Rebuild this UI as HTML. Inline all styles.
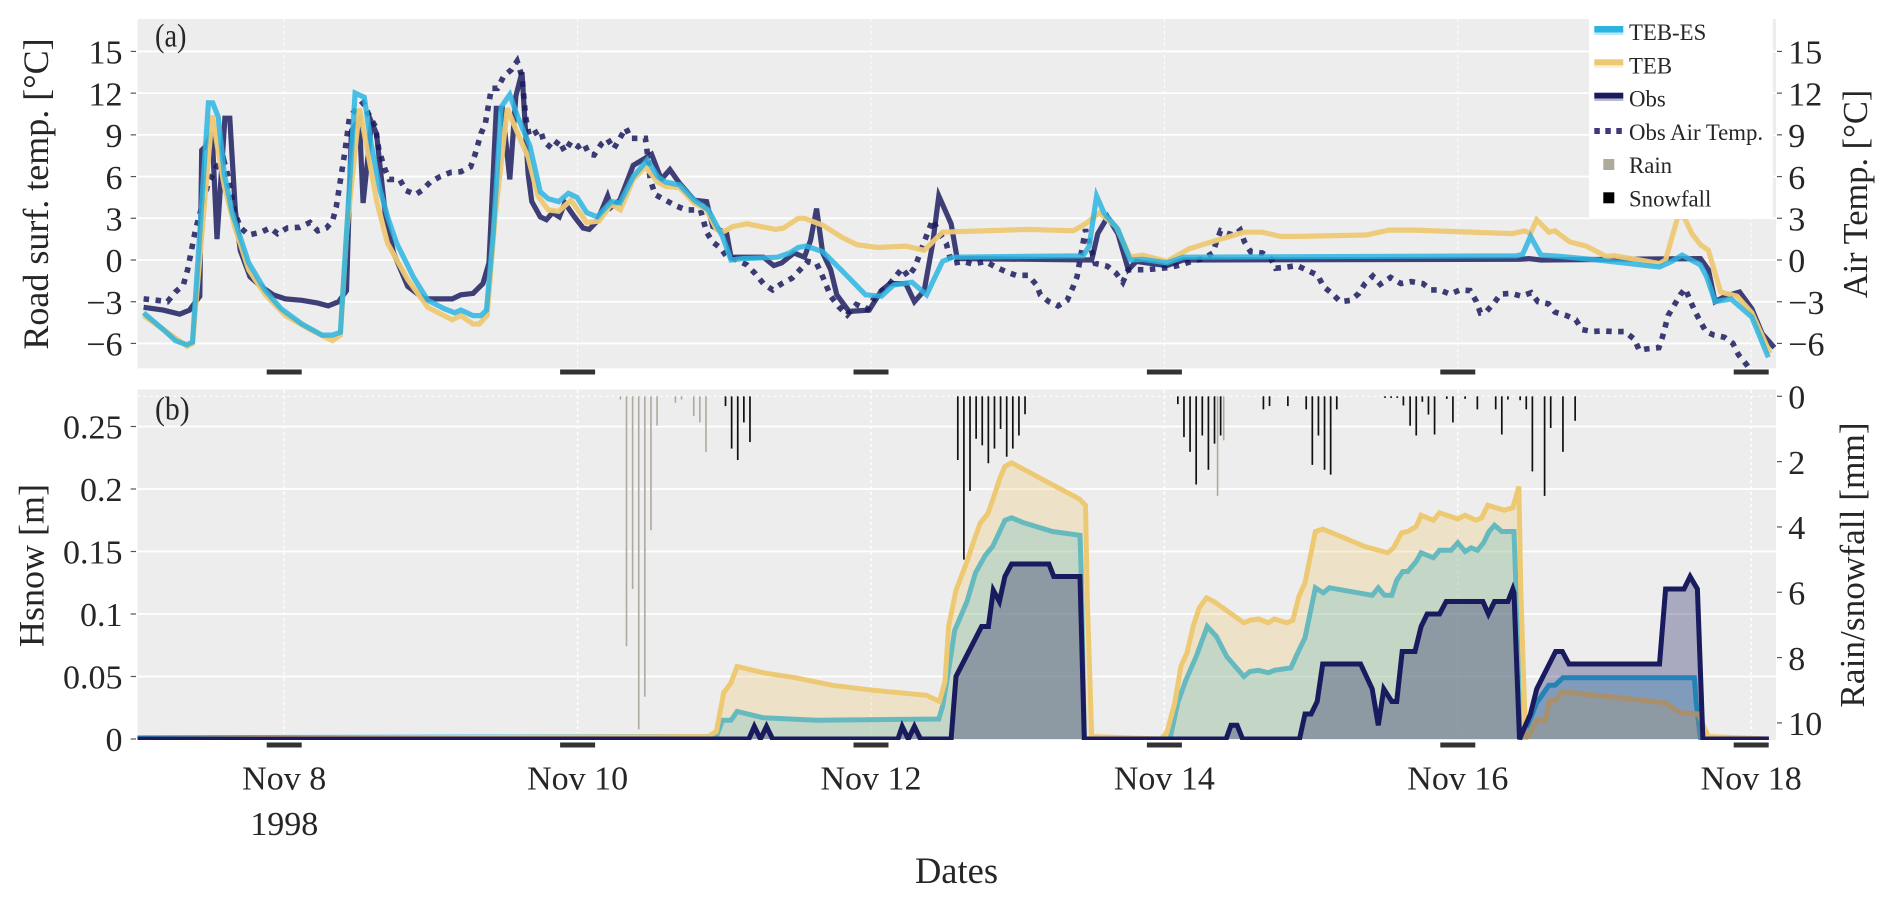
<!DOCTYPE html>
<html lang="en">
<head>
<meta charset="utf-8">
<title>Road surface temperature and snow height</title>
<style>
html,body{margin:0;padding:0;background:#fff;width:1892px;height:903px;overflow:hidden}
svg{display:block}
text{font-family:"Liberation Serif",serif;fill:#262626}
</style>
</head>
<body>
<svg id="chart" xmlns="http://www.w3.org/2000/svg" width="1892" height="903" viewBox="0 0 1892 903">
  <defs>
    <clipPath id="clip-a"><rect x="137.5" y="19" width="1638.5" height="349.3"/></clipPath>
    <clipPath id="clip-b"><rect x="137.5" y="389.5" width="1638.5" height="350.5"/></clipPath>
  </defs>
  <rect x="137.5" y="19" width="1638.5" height="349.3" fill="#ededed"/>
  <rect x="137.5" y="389.5" width="1638.5" height="350.5" fill="#ededed"/>
  <g id="grid"></g>
  <g id="panel-a" clip-path="url(#clip-a)"></g>
  <g id="panel-b" clip-path="url(#clip-b)"></g>
  <g id="axes"></g>

  <text transform="translate(155,46.5) scale(0.86,1)" font-size="33">(a)</text>
  <text transform="translate(155,419.5) scale(0.9,1)" font-size="33">(b)</text>
  <text transform="translate(48,194) rotate(-90)" text-anchor="middle" font-size="36">Road surf. temp. [°C]</text>
  <text transform="translate(1867,194) rotate(-90)" text-anchor="middle" font-size="34.4">Air Temp. [°C]</text>
  <text transform="translate(43.5,565.5) rotate(-90)" text-anchor="middle" font-size="36">Hsnow [m]</text>
  <text transform="translate(1864,565) rotate(-90)" text-anchor="middle" font-size="35.3">Rain/snowfall [mm]</text>
  <text x="956.5" y="883" text-anchor="middle" font-size="36.5">Dates</text>
  <text x="284.3" y="835" text-anchor="middle" font-size="34">1998</text>

  <g>
    <rect x="1589" y="19" width="183.7" height="200" fill="#fff"/>
    <g>
      <rect x="1594.3" y="26" width="29" height="6.5" fill="#2bb4e0"/>
      <rect x="1594.3" y="32.5" width="29" height="2.5" fill="#2bb4e0" opacity=".3"/>
      <text x="1629" y="40" font-size="22.8">TEB-ES</text>
    </g>
    <g>
      <rect x="1594.3" y="59.3" width="29" height="6" fill="#eec974"/>
      <rect x="1594.3" y="65.3" width="29" height="2.5" fill="#eec974" opacity=".3"/>
      <text x="1629" y="73.3" font-size="22.8">TEB</text>
    </g>
    <g>
      <rect x="1594.3" y="92.7" width="29" height="5.8" fill="#1a1a5e"/>
      <rect x="1594.3" y="98.5" width="29" height="2.5" fill="#1a1a5e" opacity=".3"/>
      <text x="1629" y="106.7" font-size="22.8">Obs</text>
    </g>
    <g>
      <line x1="1594.3" x2="1623.3" y1="131" y2="131" stroke="#3c3a78" stroke-width="6" stroke-dasharray="5.5 5.5"/>
      <text x="1629" y="140" font-size="22.8">Obs Air Temp.</text>
    </g>
    <g>
      <rect x="1603.3" y="159" width="11" height="11" fill="#aeaa9e"/>
      <text x="1629" y="173" font-size="22.8">Rain</text>
    </g>
    <g>
      <rect x="1603.3" y="192.3" width="11" height="11" fill="#000"/>
      <text x="1629" y="206.7" font-size="22.8">Snowfall</text>
    </g>
  </g>
</svg>

<script>
// ---------- Tick labels ----------
const dateTickHours = [24, 72, 120, 168, 216, 264];
const dateTickLabels = ['Nov 8', 'Nov 10', 'Nov 12', 'Nov 14', 'Nov 16', 'Nov 18'];
const tempTicks = [-6, -3, 0, 3, 6, 9, 12, 15];
const snowTicks = [0, 0.05, 0.1, 0.15, 0.2, 0.25];
const snowTickLabels = ['0', '0.05', '0.1', '0.15', '0.2', '0.25'];
const precipTicks = [0, 2, 4, 6, 8, 10];

// ---------- Panel (a): road surface / air temperature (hours since Nov 7 00:00, degrees C) ----------
const obsRoadHours = [1,4.2,6.9,8.5,10.2,10.5,11.2,12.2,13,14.3,15.1,16,16.8,18.4,20.2,22.2,24.2,26.9,29.5,31.2,32.9,34.2,35,36.3,36.9,38.3,39.1,40.5,41.9,44.2,46.9,51.5,52.9,54.9,56.5,57.5,58.7,59.7,60.9,61.9,62.9,63.9,64.5,65.9,66.9,67.9,69,69.9,71.5,72.9,73.9,75.2,76.9,77.5,78.9,81.1,84.1,85.7,87.1,88.7,91.1,93.1,94.1,96.4,97.1,102.4,104.1,105.4,107.4,109.1,110.1,111.1,112.1,113.4,114.4,116.4,119.7,121.7,123.1,125.7,127.1,128.7,130.1,131.1,133.1,134.1,156.1,157.1,158.7,160.4,162.1,163.4,168.4,171.1,226.2,227.6,229.6,255.7,257,258.1,259.8,262.1,264.1,265.8,267.8];
const obsRoadTemp = [-3.4,-3.6,-3.9,-3.6,-2.6,7.9,8.2,9.2,1.5,10.2,10.2,3.6,0.7,-1.2,-1.9,-2.5,-2.8,-2.9,-3.1,-3.3,-3,-2.2,9.3,10.1,4.1,9.9,9.1,3.4,0.5,-1.9,-2.8,-2.8,-2.5,-2.4,-1.7,-0.2,10.9,10.9,5.8,11.8,13.5,6.2,4.2,3.1,2.9,3.4,3.1,4.1,3.1,2.3,2.2,2.8,4.6,3.8,4.3,6.8,7.6,5.8,6.5,5.5,4.3,4.2,2.4,1.9,0.2,0.2,-0.4,-0.2,0.5,0.2,1.4,3.7,0.5,-0.7,-2.5,-3.7,-3.6,-2.2,-1.7,-1.7,-3,-2.2,1.2,4.6,2.6,0.1,0,1.9,3.1,1.9,-0.7,-0.1,-0.4,0,0.05,0.1,0,0.1,-0.7,-3,-2.6,-2.3,-3.5,-5.3,-6.3];

const airHours = [1,3.2,4.9,6.2,7.5,8.2,9.5,10.5,11.5,12.9,14.1,14.7,15.9,16.9,18.2,20.2,21.7,22.9,24.5,26.5,28.2,29.5,30.9,31.9,32.5,33.9,34.7,35.9,36.9,37.9,38.9,39.5,40.5,41.2,42.9,43.9,45.5,46.5,47.9,49.5,51.2,52.9,54.5,55.2,56.2,56.9,57.9,58.9,59.9,61.2,62.1,62.9,63.5,64.1,65.9,66.5,67.9,68.9,69.9,70.9,72.1,73,73.9,74.7,75.9,76.9,77.9,79.9,80.7,83.1,83.4,83.9,84.7,86.4,88.1,89.7,92.1,93.1,94.1,95.4,96.4,98.1,99.7,101.1,102.4,103.9,105.4,107.1,108.4,109.7,111.1,112.1,113.4,114.7,116.1,117.6,119.4,120.7,122.9,125.1,126.1,127.2,128.4,130.1,131.1,132.3,133.2,135.1,136.7,138.7,140.4,142.1,143.7,145.7,147.1,147.7,149.1,150.6,152.1,153.1,153.7,154.4,155.1,156.7,158.7,160.1,161.2,162.1,165.1,168.7,170.7,172.4,174.4,175.9,176.5,177.2,178.4,179.4,180.4,181.1,182.1,184,185.4,186.2,188.1,189.7,191.4,193.1,194,195.4,196.8,198.5,199.8,200.8,202.1,203.3,205,206.7,208.4,210.3,211.6,213,214.7,216.4,218,219,219.7,220.7,222,223,224.8,226.4,228,229.1,230.8,231.9,233.8,235.3,236.3,238,239.6,241.5,243.3,244.9,245.7,246.8,248.9,249.5,250.4,251.4,252.4,253.2,254,254.8,255.7,256.6,257.9,259.6,261,261.9,263.2,265];
const airTemp = [-2.8,-2.9,-3,-2.3,-1.8,-0.7,2.2,3.8,5.4,6.7,7.2,6.2,3.4,2.3,1.8,2,2.3,1.9,2.3,2.35,2.7,2.1,2.3,2.8,3.8,7.7,10.3,10.9,11.3,10.4,9.6,7.9,6.5,5.8,5.8,5,4.7,5,5.6,6,6.3,6.35,6.7,7.55,9.1,9.8,12.35,12.35,13.2,13.7,14.3,13.2,10.3,8.9,9.35,8.5,8,8.6,7.8,8.5,8.15,8.4,7.6,7.55,8.35,8.7,8,9.5,8.75,8.75,7.7,5.75,4.7,4.3,3.9,3.6,3.6,2,1.3,0.85,0.25,0,-0.35,-1,-1.7,-2.15,-1.7,-1.3,-0.7,-0.1,-0.25,-1.2,-2.6,-3.35,-3.95,-3.2,-3.55,-2.6,-1.8,-0.6,-1.2,-0.5,0.95,2.9,2,1.2,-0.25,-0.1,-0.3,-0.1,-0.5,-0.85,-1.1,-1.1,-1.8,-2.5,-3,-3.3,-2.9,-1.9,-1.2,0.5,2.2,-0.25,-0.45,-0.95,-1.6,-0.7,-0.7,-0.55,-0.35,-0.1,0.1,0.5,1.3,2.1,1.9,1.8,2.15,1.3,0.6,0.5,0.1,-0.6,-0.5,-0.4,-0.75,-1.1,-1.9,-2.4,-3,-2.9,-2.4,-1.7,-1.15,-1.75,-1.25,-1.7,-1.55,-1.7,-2.15,-2.15,-2.45,-2.15,-2.2,-2.95,-3.8,-3.7,-3.05,-2.45,-2.4,-2.6,-2.35,-3,-3.15,-3.75,-4,-4.3,-5,-5.15,-5.1,-5.15,-5.15,-5.7,-6.5,-6.4,-6.3,-5.5,-4,-3.25,-2.5,-2.05,-2.9,-3.7,-4.45,-5.15,-5.4,-5.55,-6,-6.8,-7.5,-8.6];

const tebRoadHours = [1,8.1,9,12.2,14.2,15.9,18.2,20.9,24.2,28.2,31.9,33.2,34.2,36.3,37.5,39.2,40.9,44.2,47.5,51.5,52.9,54.9,55.9,57.2,58.5,60.5,62.2,63.9,65.5,67.2,68.9,70.9,73.5,75.5,77.5,79,81.1,83.1,85.1,86.4,88.7,91.1,93.1,94.7,95.7,97.4,99.7,104.4,105.7,108.1,109.1,112.1,115.4,117.7,121.1,125.7,128.7,131.7,145.7,153.1,155.1,157.4,160.1,162.4,164.4,168.4,172,175.7,181,184,187,190,201,204.8,208.8,224.9,226.9,227.9,228.9,230.9,231.9,234.3,237,240.3,241.6,245.7,249,250,252,253,254.3,255.7,257,259,261.7,264.1,267.1];
const tebRoadTemp = [-4,-6.2,-6,10.4,5.3,2.4,-0.7,-2.5,-4,-5,-5.8,-5.4,1.9,10.9,8.2,4.1,1.2,-1.4,-3.4,-4.3,-4,-4.6,-4.6,-4,3.1,10.9,9.1,7.4,4.6,3.6,3.5,4.3,2.7,2.8,4,3.6,5.8,6.7,5.6,5.3,5.2,4.1,3.6,2.2,2,2.4,2.6,2.2,2.3,3,3,2.5,1.6,1.1,0.9,1,0.7,2,2.2,2.1,2.6,3.4,2.4,0.2,0.35,-0.1,0.8,1.3,2,2,1.7,1.7,1.8,2.15,2.15,1.9,2.1,1.9,2.9,2,2.1,1.3,1,0.25,0.3,0,-0.25,0,3.1,3.1,1.9,1.1,0.7,-2.3,-2.6,-3.8,-6.7];

const esRoadHours = [1,4.2,6.2,8.1,9,11.6,12.3,13.2,14.2,15.5,18.2,20.9,23.5,26.9,30.2,31.9,33.2,34.2,35.6,37.1,38.2,39.7,41,42.4,45.1,47.5,50.2,51.9,52.9,54.9,56.2,57.1,58.2,59.5,60.9,62.2,64.2,65.9,67.2,68.9,70.5,71.9,73.5,75.2,77.5,78.9,81.1,83.4,85.1,86.4,88.7,91.1,93.4,95.7,97.1,99.1,104.7,106.7,108.1,109.4,112.1,115.1,119.1,121.7,123.7,126.7,129.1,131.7,133.4,154.7,155.7,156.9,158.1,160.4,162.4,164.4,168.4,171.1,225.6,226.6,227.9,229.6,232.9,238.9,249,251,252.7,255.7,256.7,258.1,260.7,264.1,266.8];
const esRoadTemp = [-3.8,-5,-5.8,-6.1,-5.9,11.3,11.3,10.3,6.2,3.4,-0.2,-2.2,-3.5,-4.6,-5.4,-5.4,-5.2,1.9,12,11.7,8.4,5,3,1.2,-1.2,-2.9,-3.5,-3.8,-3.6,-4,-4,-3.6,1.9,11,11.9,10.3,8.2,4.9,4.4,4.2,4.8,4.5,3.4,3.1,4.2,4.1,6,7.2,6,5.6,5.4,4.3,3.6,1.7,0,0.1,0.2,0.5,0.9,1,0.6,-0.7,-2.5,-2.6,-1.8,-1.6,-2.5,-0.1,0.2,0.3,1,4.6,3.4,2.2,0,0.05,-0.2,0.2,0.3,0.4,1.7,0.35,0.25,0,-0.5,-0.1,0.35,-0.35,-1.2,-3,-2.8,-4.1,-7];

// ---------- Panel (b): snow height (hours, metres) ----------
const tebSnowHours = [0,93.4,94.7,95.9,97.1,98.1,102.4,107.7,113.7,120.4,129.1,131.2,132.1,132.7,133.9,135.7,136.7,137.9,139.1,140.1,141.1,141.9,143,149.1,154.1,155.1,155.4,156.1,167.4,168.4,169.7,170.7,171.7,172.7,173.7,174.9,176.1,181,182,183.4,185,186,188,189,190,191,192.7,193.9,200.8,204.5,205.5,206.8,207.8,209.2,210,212,213,216,217.2,219,219.9,220.9,223.6,225,226,226.3,227.1,227.9,228.9,230.3,231,232,233.1,250,252,253,255.4,256,257,266.9];
const tebSnowDepth = [0,0.002,0.006,0.037,0.045,0.058,0.053,0.049,0.043,0.039,0.035,0.03,0.046,0.09,0.119,0.142,0.157,0.173,0.18,0.194,0.209,0.218,0.221,0.205,0.192,0.187,0.109,0.002,0,0.005,0.029,0.058,0.069,0.09,0.105,0.113,0.11,0.093,0.095,0.096,0.093,0.096,0.093,0.095,0.114,0.125,0.166,0.168,0.154,0.149,0.153,0.165,0.166,0.17,0.179,0.175,0.181,0.176,0.179,0.175,0.177,0.187,0.183,0.185,0.202,0.119,0,0.005,0.015,0.015,0.031,0.031,0.038,0.029,0.022,0.021,0.02,0.013,0.002,0];

const esSnowHours = [0,94.7,95.7,97.1,98.1,102.4,111.1,131.1,131.7,132.7,133.7,135.7,137.1,138.7,139.9,141.9,143,145,149.7,154.2,154.4,154.9,168.9,170.2,171.5,173.2,175,176.5,178.2,181,182,183.4,185,186,188.7,190,191,192.7,194,195,202,203,204,205.2,206,207,207.8,209.2,210,212,213,214.9,216,217.2,218.2,219.2,220.2,221.1,222,223.2,225.2,225.6,226.2,227.6,228.9,230.9,231.9,233.2,254.7,255,255.7,266.9];
const esSnowDepth = [0.001,0.002,0.015,0.015,0.022,0.017,0.015,0.016,0.026,0.055,0.087,0.11,0.133,0.147,0.154,0.175,0.177,0.173,0.166,0.163,0.13,0,0,0.029,0.047,0.066,0.09,0.082,0.066,0.05,0.054,0.055,0.053,0.055,0.057,0.071,0.081,0.121,0.117,0.121,0.115,0.121,0.115,0.115,0.127,0.134,0.134,0.142,0.149,0.145,0.151,0.151,0.157,0.15,0.153,0.151,0.157,0.166,0.171,0.166,0.166,0.109,0,0.013,0.029,0.043,0.043,0.049,0.049,0.029,0,0];

const obsSnowHours = [0,100,100.9,101.9,102.9,103.9,124.4,125.1,126.1,127.1,128.1,133.1,133.9,138.1,139.2,140,141,141.9,143,149.1,149.9,154.2,154.9,178.1,178.9,179.9,180.8,190.1,191,192,193,193.9,200.1,202,203,203.9,205.2,206,206.9,209,210,211,213,214.1,220.1,221,222,224.2,225,225.2,226.1,227.9,228.9,232,233.1,234.2,249,250,253,254,255.2,256.1,266.9];
const obsSnowDepth = [0,0,0.01,0,0.01,0,0,0.01,0,0.01,0,0,0.05,0.09,0.09,0.119,0.11,0.13,0.14,0.14,0.13,0.13,0,0,0.011,0.011,0,0,0.02,0.02,0.03,0.06,0.06,0.04,0.011,0.04,0.03,0.03,0.07,0.07,0.09,0.1,0.1,0.11,0.11,0.1,0.11,0.11,0.12,0.117,0,0.02,0.04,0.07,0.07,0.06,0.06,0.12,0.12,0.13,0.12,0,0];

// ---------- Panel (b): precipitation stems (hours, mm) ----------
const rainHours = [79,80,81,82,83,84,85,88,89,91,92,93,176.7,177.7];
const rainAmount = [0.1,7.65,5.9,10.2,9.2,4.1,0.9,0.2,0.1,0.6,0.8,1.7,3.05,1.35];
const snowfallHours = [96.2,97.2,98.2,99.2,100.2,134.2,135.2,136.2,137.2,138.2,139.2,140.2,141.2,142.2,143.2,144.2,145.2,170.2,171.2,172.2,173.2,174.2,175.2,176.2,177.2,184.2,185.2,188.2,191.2,192.2,193.2,194.2,195.2,196.2,204.1,205.1,206.1,207.1,208.2,209.2,210.2,211.2,212.2,214.2,215.2,217.2,219.2,222.2,223.2,224.2,226.2,227.2,228.2,230.2,231.2,233.2,235.2];
const snowfallAmount = [0.3,1.6,1.95,0.8,1.4,1.95,5,2.9,1.3,1.5,2.05,1.6,1,1.85,1.6,1.2,0.55,0.24,1.25,1.7,2.7,1.2,2.25,1.45,1.2,0.4,0.3,0.3,0.4,2.1,1.2,2.25,2.4,0.4,0.05,0.05,0.05,0.28,0.9,1.2,0.17,0.56,1.17,0.08,0.8,0.08,0.4,0.4,1.17,0.1,0.12,0.4,2.3,3.05,0.97,1.7,0.75];

// ---------- Axis functions ----------
function xAt(hour) { return 137.5 + hour * 6.1125; }
function yTemp(t) { return 260 - t * 13.905; }
function ySnow(m) { return 739 - m * 1250; }
function yPrecip(mm) { return 396.3 + mm * 32.66; }

const NS = 'http://www.w3.org/2000/svg';
function make(parent, tag, attrs, content) {
  const n = document.createElementNS(NS, tag);
  for (const k in attrs) n.setAttribute(k, attrs[k]);
  if (content !== undefined) n.textContent = content;
  parent.appendChild(n);
  return n;
}
function linePoints(hours, values, yFn) {
  return hours.map((h, i) => xAt(h).toFixed(1) + ',' + yFn(values[i]).toFixed(1)).join(' ');
}
function areaPoints(hours, values, yFn) {
  return xAt(hours[0]).toFixed(1) + ',' + yFn(0).toFixed(1) + ' ' + linePoints(hours, values, yFn) + ' ' +
    xAt(hours[hours.length - 1]).toFixed(1) + ',' + yFn(0).toFixed(1);
}
function fmtTemp(t) { return t < 0 ? '\u2212' + Math.abs(t) : String(t); }

const grid = document.getElementById('grid');
const axes = document.getElementById('axes');
const panelA = document.getElementById('panel-a');
const panelB = document.getElementById('panel-b');

// ---------- Grid ----------
tempTicks.forEach(t => {
  const g = make(grid, 'line', { x1: 137.5, x2: 1776, y1: yTemp(t), y2: yTemp(t), stroke: '#fff', 'stroke-width': 1.8 });
  
  
});
snowTicks.slice(1).forEach(s => {
  const g = make(grid, 'line', { x1: 137.5, x2: 1776, y1: ySnow(s), y2: ySnow(s), stroke: '#fff', 'stroke-width': 1.8 });
  
  
});
const topDash = make(grid, 'line', { x1: 137.5, x2: 1776, y1: yPrecip(0), y2: yPrecip(0), stroke: '#fff', 'stroke-width': 1.2, 'stroke-dasharray': '3 3' });


dateTickHours.forEach(h => {
  const a = make(grid, 'line', { x1: xAt(h), x2: xAt(h), y1: 19, y2: 368, stroke: '#fff', 'stroke-width': 1, 'stroke-dasharray': '3 3' });
  
  
  const b = make(grid, 'line', { x1: xAt(h), x2: xAt(h), y1: 390, y2: 733, stroke: '#fff', 'stroke-width': 1.5, 'stroke-dasharray': '3 3' });
  
  
});

// ---------- Panel (a) series ----------
const obsRoadLine = make(panelA, 'polyline', { points: linePoints(obsRoadHours, obsRoadTemp, yTemp), fill: 'none', stroke: '#1a1a5e', 'stroke-opacity': .83, 'stroke-width': 5.2 });


const airLine = make(panelA, 'polyline', { points: linePoints(airHours, airTemp, yTemp), fill: 'none', stroke: '#1a1a5e', 'stroke-opacity': .85, 'stroke-width': 5.6, 'stroke-dasharray': '5.5 6.5' });


const tebRoadLine = make(panelA, 'polyline', { points: linePoints(tebRoadHours, tebRoadTemp, yTemp), fill: 'none', stroke: '#eec974', 'stroke-opacity': .95, 'stroke-width': 5.2 });


const esRoadLine = make(panelA, 'polyline', { points: linePoints(esRoadHours, esRoadTemp, yTemp), fill: 'none', stroke: '#2bb4e0', 'stroke-opacity': .85, 'stroke-width': 5.2 });



// ---------- Panel (b) precipitation stems ----------
rainHours.forEach((h, i) => {
  const s = make(panelB, 'line', { x1: xAt(h), x2: xAt(h), y1: yPrecip(0), y2: yPrecip(rainAmount[i]), stroke: '#aeaa9e', 'stroke-width': 1.6 });
  
  
});
snowfallHours.forEach((h, i) => {
  const s = make(panelB, 'line', { x1: xAt(h), x2: xAt(h), y1: yPrecip(0), y2: yPrecip(snowfallAmount[i]), stroke: '#111', 'stroke-width': 1.7 });
  
  
});

// ---------- Panel (b) snow depth ----------
const esArea = make(panelB, 'polygon', { points: areaPoints(esSnowHours, esSnowDepth, ySnow), fill: '#2bb4e0', 'fill-opacity': .3 });


const esLine = make(panelB, 'polyline', { points: linePoints(esSnowHours, esSnowDepth, ySnow), fill: 'none', stroke: '#2bb4e0', 'stroke-width': 5 });


const tebArea = make(panelB, 'polygon', { points: areaPoints(tebSnowHours, tebSnowDepth, ySnow), fill: '#eec974', 'fill-opacity': .3 });


const tebLine = make(panelB, 'polyline', { points: linePoints(tebSnowHours, tebSnowDepth, ySnow), fill: 'none', stroke: '#eec974', 'stroke-width': 5 });


const obsArea = make(panelB, 'polygon', { points: areaPoints(obsSnowHours, obsSnowDepth, ySnow), fill: '#1a1a5e', 'fill-opacity': .32 });


const obsLine = make(panelB, 'polyline', { points: linePoints(obsSnowHours, obsSnowDepth, ySnow), fill: 'none', stroke: '#1a1a5e', 'stroke-width': 5 });



// ---------- Axes: ticks and labels ----------
tempTicks.forEach(t => {
  const y = yTemp(t);
  const tl = make(axes, 'line', { x1: 130.7, x2: 136, y1: y, y2: y, stroke: '#555', 'stroke-width': 1.2 });
  
  
  const ll = make(axes, 'text', { x: 122.5, y: y + 12.2, 'text-anchor': 'end', 'font-size': 34 }, fmtTemp(t));
  
  
  const tr = make(axes, 'line', { x1: 1777, x2: 1782, y1: y, y2: y, stroke: '#555', 'stroke-width': 1.2 });
  
  
  const lr = make(axes, 'text', { x: 1788.3, y: y + 12.2, 'font-size': 34 }, fmtTemp(t));
  
  
});
snowTicks.forEach((s, i) => {
  const y = ySnow(s);
  const tk = make(axes, 'line', { x1: 130.7, x2: 136, y1: y, y2: y, stroke: '#555', 'stroke-width': 1.2 });
  
  
  const lb = make(axes, 'text', { x: 122.5, y: y + 12.2, 'text-anchor': 'end', 'font-size': 34 }, snowTickLabels[i]);
  
  
});
precipTicks.forEach(p => {
  const y = yPrecip(p);
  const tk = make(axes, 'line', { x1: 1777, x2: 1782, y1: y, y2: y, stroke: '#555', 'stroke-width': 1.2 });
  
  
  const lb = make(axes, 'text', { x: 1788.3, y: y + 12.2, 'font-size': 34 }, String(p));
  
  
});
dateTickHours.forEach((h, i) => {
  const x = xAt(h);
  const barA = make(axes, 'rect', { x: x - 17.5, y: 369.5, width: 35, height: 5, fill: '#333' });
  
  
  const barB = make(axes, 'rect', { x: x - 17.5, y: 742.5, width: 35, height: 5, fill: '#333' });
  
  
  const lb = make(axes, 'text', { x: x, y: 789.5, 'text-anchor': 'middle', 'font-size': 34 }, dateTickLabels[i]);
  
  
});
</script>
</body>
</html>
